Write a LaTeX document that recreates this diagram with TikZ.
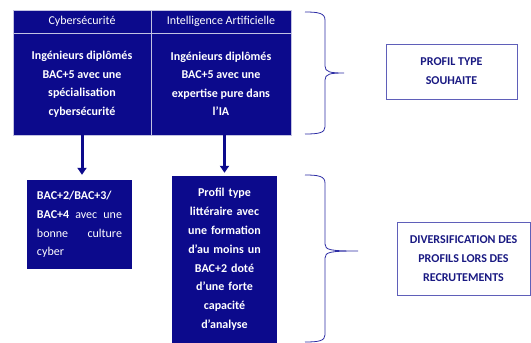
\documentclass[tikz,border=0pt]{standalone}
\usepackage{fontspec}
\setmainfont{Carlito}
\usetikzlibrary{arrows.meta, calc, positioning}
\definecolor{navyfill}{RGB}{12,10,140}
\definecolor{bracecol}{RGB}{45,45,165}
\definecolor{boxline}{RGB}{95,95,185}
\definecolor{boxtext}{RGB}{25,25,130}
\tikzset{
    my-head-cell/.style={
        draw=white!75!navyfill, fill=navyfill, text=white, line width=0.8pt,
        minimum height=23pt, inner sep=0pt, font=\fontsize{12}{14}\selectfont
    },
    my-body-cell/.style={
        draw=white!75!navyfill, fill=navyfill, text=white, line width=0.8pt,
        minimum height=102pt, inner sep=0pt, align=center,
        font=\bfseries\fontsize{12}{18.5}\selectfont
    },
    my-low-box/.style={
        fill=navyfill, text=white, minimum width=105pt, inner sep=0pt,
        font=\bfseries\fontsize{12}{18.8}\selectfont
    },
    my-label-box/.style={
        draw=boxline, line width=0.8pt, text=boxtext, inner sep=0pt,
        align=center, font=\bfseries\fontsize{12}{18.8}\selectfont
    },
    my-arrow/.style={
        navyfill, line width=3pt, -{Triangle[width=9pt,length=7pt]}
    },
    my-brace/.style={
        bracecol, line width=0.8pt
    },
}

\begin{document}
\begin{tikzpicture}[x=1pt, y=-1pt]

        \useasboundingbox (0,0) rectangle (531,343);

        % TOP TABLE - HEADERS
        \node[my-head-cell, minimum width=138pt] (CYBERHEAD) at (82, 21.5)  {Cybersécurité};
        \node[my-head-cell, minimum width=140pt] (IAHEAD)    at (221, 21.5) {Intelligence Artificielle};

        % TOP TABLE - BODY
        \node[my-body-cell, minimum width=138pt] (CYBERBODY) at (82, 84)
            {\raisebox{5pt}{\parbox{132pt}{\centering Ingénieurs diplômés\\ BAC+5 avec une\\ spécialisation\\ cybersécurité}}};
        \node[my-body-cell, minimum width=140pt] (IABODY)    at (221, 84)
            {\raisebox{5pt}{\parbox{132pt}{\centering Ingénieurs diplômés\\ BAC+5 avec une\\ expertise pure dans\\ l’IA}}};

        % LOWER BOXES
        \node[my-low-box, minimum height=89pt, text width=85pt, align=justify, inner xsep=10pt] (CYBERLOW) at (79.5, 224.5)
            {\textbf{BAC+2/BAC+3/}\\ \textbf{BAC+4} \mdseries avec une\linebreak bonne culture\linebreak cyber};
        \node[my-low-box, minimum height=167pt, text width=95pt, align=center] (IALOW) at (224.5, 259.5)
            {Profil type\\ littéraire avec\\ une formation\\ d’au moins un\\ BAC+2 doté\\ d’une forte\\ capacité\\ d’analyse};

        % ARROWS
        \draw[my-arrow, shorten >=5pt] (CYBERBODY.south) -- (CYBERBODY.south |- CYBERLOW.north);
        \draw[my-arrow, shorten >=3pt] (IABODY.south -| IALOW.north) -- (IALOW.north);

        % BRACES
        \coordinate (BRACE1TIP) at (344, 73);
        \coordinate (BRACE2TIP) at (358, 251);
        \draw[my-brace] (305,12) .. controls (318,12) and (325,13) .. (325,20) -- (325,66)
            .. controls (325,72) and (330,73) .. (BRACE1TIP)
            .. controls (330,73) and (325,74) .. (325,80) -- (325,127)
            .. controls (325,133) and (318,134) .. (305,134);
        \draw[my-brace] (305,175) .. controls (318,175) and (325,176) .. (325,183) -- (325,244)
            .. controls (325,250) and (330,251) .. (BRACE2TIP)
            .. controls (330,251) and (325,252) .. (325,258) -- (325,335)
            .. controls (325,341) and (318,342) .. (305,342);

        % LABEL BOXES
        \node[my-label-box, minimum width=131pt, minimum height=55pt] (SOUHAITE) at (451.5, 71.5)
            {PROFIL TYPE\\ SOUHAITE};
        \node[my-label-box, minimum width=133pt, minimum height=73pt] (DIVERSIF) at (463.5, 258.5)
            {DIVERSIFICATION DES\\ PROFILS LORS DES\\ RECRUTEMENTS};

    \end{tikzpicture}
\end{document}
